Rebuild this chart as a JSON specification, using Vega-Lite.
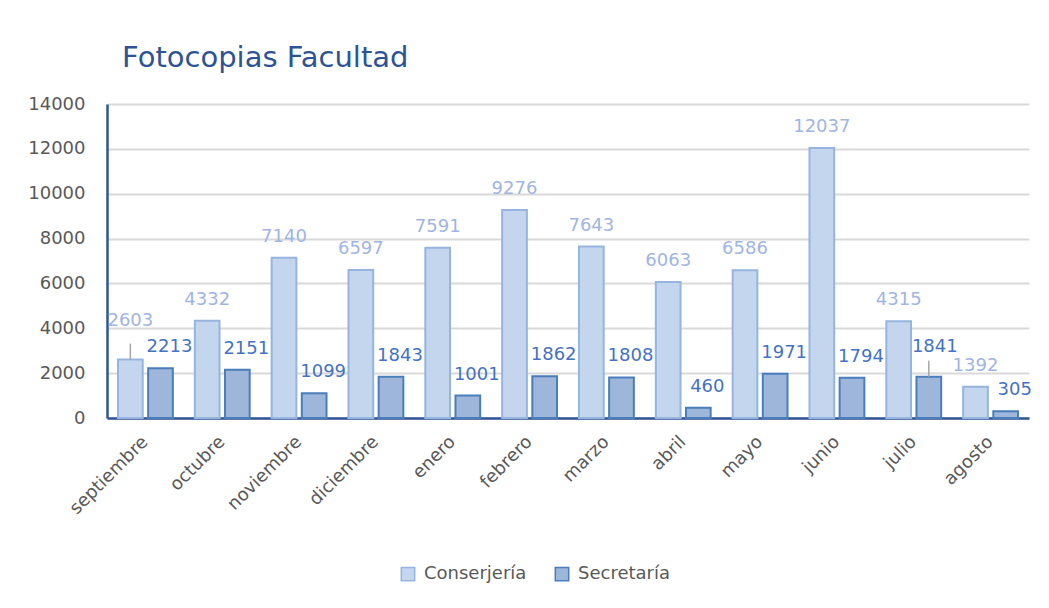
{
  "$schema": "https://vega.github.io/schema/vega-lite/v6.json",
  "autosize": "none",
  "width": 922,
  "height": 314,
  "padding": {"left": 107, "top": 104, "right": 20, "bottom": 190},
  "background": "white",
  "config": {
    "view": {"stroke": null},
    "font": "DejaVu Sans"
  },
  "title": {
    "text": "Fotocopias Facultad",
    "anchor": "start",
    "frame": "group",
    "dx": 15,
    "offset": 22,
    "fontSize": 29,
    "fontWeight": "normal",
    "color": "#2e5395",
    "font": "DejaVu Sans"
  },
  "data": {
    "values": [
      {"mes": "septiembre", "serie": "Conserjería", "valor": 2603},
      {"mes": "septiembre", "serie": "Secretaría", "valor": 2213},
      {"mes": "octubre", "serie": "Conserjería", "valor": 4332},
      {"mes": "octubre", "serie": "Secretaría", "valor": 2151},
      {"mes": "noviembre", "serie": "Conserjería", "valor": 7140},
      {"mes": "noviembre", "serie": "Secretaría", "valor": 1099},
      {"mes": "diciembre", "serie": "Conserjería", "valor": 6597},
      {"mes": "diciembre", "serie": "Secretaría", "valor": 1843},
      {"mes": "enero", "serie": "Conserjería", "valor": 7591},
      {"mes": "enero", "serie": "Secretaría", "valor": 1001},
      {"mes": "febrero", "serie": "Conserjería", "valor": 9276},
      {"mes": "febrero", "serie": "Secretaría", "valor": 1862},
      {"mes": "marzo", "serie": "Conserjería", "valor": 7643},
      {"mes": "marzo", "serie": "Secretaría", "valor": 1808},
      {"mes": "abril", "serie": "Conserjería", "valor": 6063},
      {"mes": "abril", "serie": "Secretaría", "valor": 460},
      {"mes": "mayo", "serie": "Conserjería", "valor": 6586},
      {"mes": "mayo", "serie": "Secretaría", "valor": 1971},
      {"mes": "junio", "serie": "Conserjería", "valor": 12037},
      {"mes": "junio", "serie": "Secretaría", "valor": 1794},
      {"mes": "julio", "serie": "Conserjería", "valor": 4315},
      {"mes": "julio", "serie": "Secretaría", "valor": 1841},
      {"mes": "agosto", "serie": "Conserjería", "valor": 1392},
      {"mes": "agosto", "serie": "Secretaría", "valor": 305}
    ]
  },
  "encoding": {
    "x": {
      "field": "mes",
      "type": "nominal",
      "sort": null,
      "scale": {"paddingInner": 0.286, "paddingOuter": 0.143},
      "axis": {
        "title": null,
        "labelAngle": -45,
        "labelAlign": "right",
        "labelBaseline": "middle",
        "labelPadding": 21,
        "labelFontSize": 18,
        "labelColor": "#595959",
        "ticks": false,
        "domainColor": "#2f5597",
        "domainWidth": 2.5,
        "grid": false
      }
    },
    "xOffset": {
      "field": "serie",
      "type": "nominal",
      "scale": {"domain": ["Conserjería", "Secretaría"], "paddingInner": 0.18, "paddingOuter": 0}
    },
    "y": {
      "field": "valor",
      "type": "quantitative",
      "scale": {"domain": [0, 14000], "nice": false},
      "axis": {
        "title": null,
        "values": [0, 2000, 4000, 6000, 8000, 10000, 12000, 14000],
        "format": "d",
        "labelFontSize": 18,
        "labelColor": "#595959",
        "labelPadding": 22,
        "ticks": false,
        "domainColor": "#2f5597",
        "domainWidth": 2.5,
        "gridColor": "#d9d9d9",
        "gridWidth": 2
      }
    }
  },
  "layer": [
    {
      "mark": {"type": "bar", "strokeWidth": 2},
      "encoding": {
        "fill": {
          "field": "serie",
          "type": "nominal",
          "scale": {"domain": ["Conserjería", "Secretaría"], "range": ["#c4d6ee", "#9db6da"]},
          "legend": {
            "title": null,
            "orient": "none",
            "direction": "horizontal",
            "legendX": 292,
            "legendY": 461,
            "symbolType": "square",
            "symbolSize": 180,
            "symbolStrokeWidth": 1.5,
            "labelFontSize": 18,
            "labelColor": "#595959",
            "columnPadding": 25,
            "labelOffset": 7
          }
        },
        "stroke": {
          "field": "serie",
          "type": "nominal",
          "scale": {"domain": ["Conserjería", "Secretaría"], "range": ["#95b5e0", "#4a7ebb"]},
          "legend": null
        }
      }
    },
    {
      "transform": [{"filter": "(datum.serie == 'Conserjería' && datum.mes == 'septiembre') || (datum.serie == 'Secretaría' && datum.mes == 'julio')"}],
      "mark": {"type": "rule", "color": "#a6a6a6", "strokeWidth": 1.5, "y2Offset": -16},
      "encoding": {
        "y2": {"field": "valor"}
      }
    },
    {
      "transform": [{"filter": "datum.serie == 'Conserjería' && datum.mes != 'septiembre'"}],
      "mark": {"type": "text", "baseline": "alphabetic", "dy": -16, "fontSize": 18, "color": "#9fb5e2"},
      "encoding": {
        "text": {"field": "valor", "type": "quantitative", "format": "d"}
      }
    },
    {
      "transform": [{"filter": "datum.serie == 'Conserjería' && datum.mes == 'septiembre'"}],
      "mark": {"type": "text", "baseline": "alphabetic", "dy": -34, "fontSize": 18, "color": "#9fb5e2"},
      "encoding": {
        "text": {"field": "valor", "type": "quantitative", "format": "d"}
      }
    },
    {
      "transform": [{"filter": "datum.serie == 'Secretaría' && datum.mes != 'julio'"}],
      "mark": {"type": "text", "baseline": "alphabetic", "dy": -16, "dx": 9, "fontSize": 18, "color": "#4472c4"},
      "encoding": {
        "text": {"field": "valor", "type": "quantitative", "format": "d"}
      }
    },
    {
      "transform": [{"filter": "datum.serie == 'Secretaría' && datum.mes == 'julio'"}],
      "mark": {"type": "text", "baseline": "alphabetic", "dy": -25, "dx": 6, "fontSize": 18, "color": "#4472c4"},
      "encoding": {
        "text": {"field": "valor", "type": "quantitative", "format": "d"}
      }
    }
  ]
}
